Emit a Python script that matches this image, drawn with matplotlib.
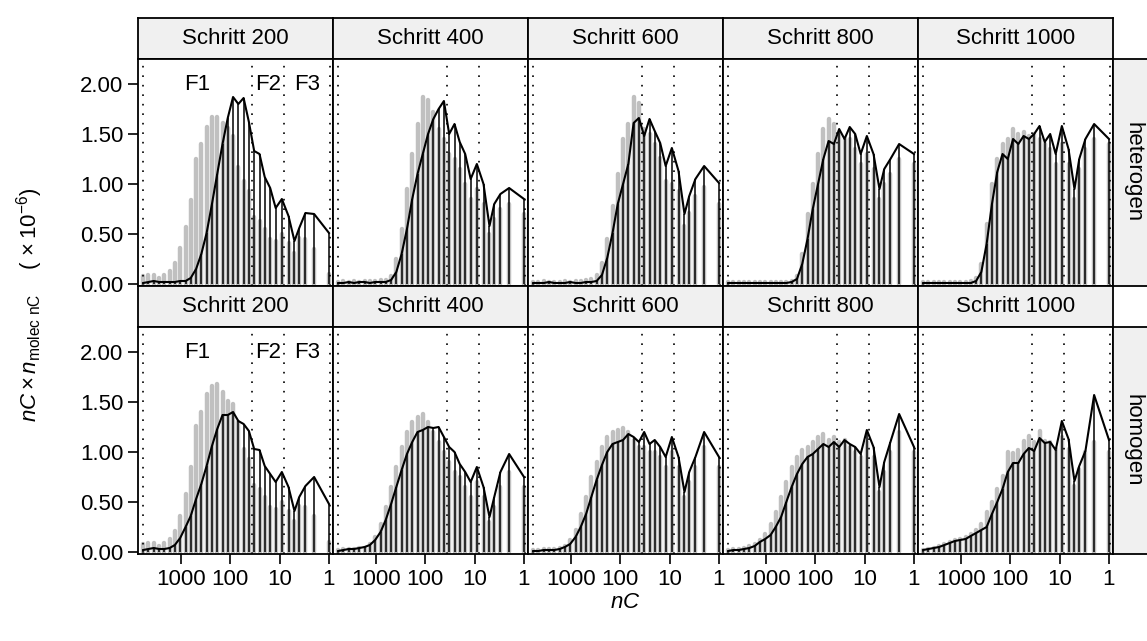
import numpy as np
import matplotlib.pyplot as plt
from matplotlib.ticker import NullLocator, FixedFormatter, FixedLocator

plt.rcParams['font.family'] = 'Liberation Sans'
plt.rcParams['mathtext.fontset'] = 'custom'
plt.rcParams['mathtext.rm'] = 'Liberation Sans'
plt.rcParams['mathtext.it'] = 'Liberation Sans:italic'

# carbon number of each class (log-spaced bins for long chains, single nC for short ones)
nc_bins = [5770, 4510, 3520, 2750, 2150, 1680, 1320, 1030, 800, 630, 490, 384,
           300, 234, 183, 143, 112, 87.5, 68.4, 53.5, 41.8, 32.7, 25.5, 20,
           15.5, 12, 9, 6.6, 5, 4, 3, 2, 1]
frac_edges = [5830, 36.3, 8.0, 0.97]
frac_labels = ['F1', 'F2', 'F3']
steps = [200, 400, 600, 800, 1000]
modes = ['heterogen', 'homogen']
x_ticks = [1000, 100, 10, 1]
y_ticks = [0.0, 0.5, 1.0, 1.5, 2.0]

# simulated distribution (black), nC * n_molec in 1e-6
sim_het_200 = [0.01, 0.02, 0.03, 0.02, 0.02, 0.02, 0.02, 0.03, 0.03, 0.06, 0.15, 0.30,
               0.51, 0.80, 1.10, 1.40, 1.66, 1.87, 1.80, 1.86, 1.62, 1.33, 1.30, 1.07,
               0.96, 0.76, 0.85, 0.68, 0.43, 0.56, 0.71, 0.70, 0.51]
sim_het_400 = [0.01, 0.01, 0.02, 0.01, 0.02, 0.02, 0.01, 0.02, 0.02, 0.02, 0.04, 0.12,
               0.30, 0.55, 0.85, 1.10, 1.30, 1.50, 1.65, 1.75, 1.83, 1.50, 1.60, 1.42,
               1.30, 1.05, 1.20, 1.00, 0.58, 0.80, 0.90, 0.96, 0.85]
sim_het_600 = [0.01, 0.01, 0.01, 0.02, 0.01, 0.01, 0.01, 0.02, 0.01, 0.01, 0.02, 0.02,
               0.03, 0.09, 0.26, 0.51, 0.80, 1.00, 1.20, 1.61, 1.66, 1.48, 1.65, 1.53,
               1.41, 1.18, 1.36, 1.13, 0.70, 0.88, 1.05, 1.18, 1.01]
sim_het_800 = [0.01, 0.01, 0.01, 0.01, 0.01, 0.01, 0.01, 0.01, 0.01, 0.01, 0.01, 0.01,
               0.02, 0.05, 0.20, 0.45, 0.75, 1.00, 1.25, 1.43, 1.40, 1.55, 1.45, 1.57,
               1.50, 1.30, 1.48, 1.30, 0.95, 1.15, 1.25, 1.40, 1.30]
sim_het_1000 = [0.01, 0.01, 0.01, 0.01, 0.01, 0.01, 0.01, 0.01, 0.01, 0.01, 0.03, 0.12,
                0.40, 0.80, 1.12, 1.30, 1.25, 1.45, 1.40, 1.48, 1.45, 1.50, 1.58, 1.42,
                1.50, 1.30, 1.58, 1.35, 0.95, 1.25, 1.45, 1.60, 1.45]
sim_hom_200 = [0.02, 0.03, 0.04, 0.03, 0.03, 0.04, 0.07, 0.14, 0.25, 0.36, 0.53, 0.68,
               0.86, 1.06, 1.23, 1.37, 1.37, 1.40, 1.31, 1.28, 1.21, 1.03, 1.02, 0.86,
               0.78, 0.70, 0.80, 0.65, 0.41, 0.55, 0.66, 0.75, 0.48]
sim_hom_400 = [0.01, 0.02, 0.03, 0.03, 0.04, 0.05, 0.07, 0.12, 0.20, 0.32, 0.48, 0.65,
               0.82, 0.98, 1.10, 1.20, 1.22, 1.25, 1.24, 1.25, 1.15, 1.05, 1.00, 0.88,
               0.80, 0.70, 0.85, 0.65, 0.35, 0.55, 0.80, 0.98, 0.75]
sim_hom_600 = [0.01, 0.01, 0.02, 0.02, 0.02, 0.03, 0.05, 0.08, 0.15, 0.25, 0.38, 0.55,
               0.72, 0.87, 1.00, 1.08, 1.10, 1.12, 1.18, 1.15, 1.10, 1.20, 1.08, 1.12,
               1.05, 0.95, 1.15, 0.95, 0.60, 0.80, 0.95, 1.20, 0.95]
sim_hom_800 = [0.01, 0.02, 0.02, 0.03, 0.04, 0.06, 0.10, 0.13, 0.17, 0.25, 0.35, 0.50,
               0.65, 0.78, 0.88, 0.95, 0.98, 1.03, 1.08, 1.05, 1.10, 1.05, 1.12, 1.08,
               1.05, 0.98, 1.22, 1.05, 0.65, 0.90, 1.10, 1.38, 1.05]
sim_hom_1000 = [0.02, 0.03, 0.04, 0.05, 0.07, 0.09, 0.11, 0.12, 0.13, 0.16, 0.19, 0.22,
                0.25, 0.38, 0.50, 0.63, 0.80, 0.89, 0.89, 0.98, 1.04, 1.01, 1.14, 1.09,
                1.10, 1.02, 1.31, 1.13, 0.71, 0.86, 1.01, 1.57, 1.12]

# reference distribution (grey)
ref_het_200 = [0.08, 0.09, 0.09, 0.06, 0.09, 0.13, 0.21, 0.36, 0.57, 0.84, 1.25, 1.40,
               1.57, 1.67, 1.67, 1.61, 1.56, 1.48, 1.17, 1.03, 0.93, 0.67, 0.63, 0.55,
               0.45, 0.43, 0.50, 0.41, 0.31, 0.46, 0.45, 0.35, 0.10]
ref_het_400 = [0.02, 0.03, 0.02, 0.03, 0.02, 0.03, 0.03, 0.03, 0.04, 0.04, 0.08, 0.25,
               0.55, 0.95, 1.30, 1.60, 1.87, 1.84, 1.72, 1.55, 1.45, 1.30, 1.25, 1.15,
               1.00, 0.85, 0.95, 0.80, 0.50, 0.65, 0.75, 0.80, 0.70]
ref_het_600 = [0.02, 0.02, 0.03, 0.02, 0.02, 0.02, 0.03, 0.02, 0.03, 0.03, 0.04, 0.05,
               0.09, 0.21, 0.45, 0.78, 1.10, 1.45, 1.60, 1.87, 1.81, 1.55, 1.50, 1.40,
               1.26, 1.03, 1.00, 0.93, 0.58, 0.71, 0.88, 0.97, 0.80]
ref_het_800 = [0.02, 0.02, 0.02, 0.02, 0.02, 0.02, 0.02, 0.02, 0.02, 0.02, 0.02, 0.02,
               0.03, 0.08, 0.30, 0.70, 1.00, 1.30, 1.55, 1.65, 1.60, 1.50, 1.45, 1.45,
               1.35, 1.20, 1.30, 1.15, 0.85, 1.00, 1.10, 1.25, 1.20]
ref_het_1000 = [0.02, 0.02, 0.02, 0.02, 0.02, 0.02, 0.02, 0.02, 0.02, 0.03, 0.06, 0.20,
                0.60, 1.00, 1.25, 1.40, 1.45, 1.55, 1.50, 1.52, 1.48, 1.50, 1.45, 1.40,
                1.35, 1.20, 1.40, 1.20, 0.85, 1.15, 1.35, 1.45, 1.40]
ref_hom_200 = [0.08, 0.09, 0.09, 0.06, 0.09, 0.13, 0.21, 0.36, 0.58, 0.85, 1.26, 1.40,
               1.58, 1.66, 1.68, 1.60, 1.51, 1.48, 1.30, 1.03, 0.93, 0.67, 0.63, 0.55,
               0.45, 0.43, 0.50, 0.41, 0.31, 0.46, 0.45, 0.36, 0.10]
ref_hom_400 = [0.02, 0.03, 0.03, 0.03, 0.04, 0.04, 0.08, 0.15, 0.28, 0.45, 0.65, 0.85,
               1.05, 1.20, 1.30, 1.35, 1.38, 1.30, 1.20, 1.10, 1.00, 0.90, 0.80, 0.75,
               0.65, 0.55, 0.70, 0.55, 0.30, 0.45, 0.65, 0.80, 0.65]
ref_hom_600 = [0.02, 0.02, 0.03, 0.03, 0.03, 0.04, 0.06, 0.12, 0.22, 0.38, 0.55, 0.75,
               0.90, 1.05, 1.15, 1.20, 1.22, 1.24, 1.20, 1.12, 1.05, 1.05, 1.00, 1.00,
               0.95, 0.85, 1.00, 0.85, 0.55, 0.70, 0.85, 1.05, 0.85]
ref_hom_800 = [0.02, 0.03, 0.03, 0.04, 0.06, 0.08, 0.12, 0.18, 0.28, 0.40, 0.55, 0.70,
               0.85, 0.95, 1.02, 1.05, 1.10, 1.15, 1.18, 1.12, 1.15, 1.10, 1.12, 1.05,
               1.00, 0.95, 1.10, 0.95, 0.60, 0.80, 1.00, 1.20, 1.00]
ref_hom_1000 = [0.02, 0.03, 0.04, 0.06, 0.08, 0.10, 0.12, 0.13, 0.15, 0.18, 0.22, 0.28,
                0.40, 0.50, 0.63, 0.76, 1.00, 0.99, 1.02, 1.11, 1.16, 1.10, 1.21, 1.11,
                1.10, 1.03, 1.15, 1.03, 0.66, 0.83, 1.00, 1.10, 1.00]

sim = {'heterogen': [sim_het_200, sim_het_400, sim_het_600, sim_het_800, sim_het_1000],
       'homogen': [sim_hom_200, sim_hom_400, sim_hom_600, sim_hom_800, sim_hom_1000]}
ref = {'heterogen': [ref_het_200, ref_het_400, ref_het_600, ref_het_800, ref_het_1000],
       'homogen': [ref_hom_200, ref_hom_400, ref_hom_600, ref_hom_800, ref_hom_1000]}

W, H = 1147, 641
LEFT, TOP = 138, 18
PW, PH, SH = 195, 227, 41
STRIP_COL = '#f0f0f0'
GREY = '#c0c0c0'
FS = 16

fig = plt.figure(figsize=(W / 100, H / 100), dpi=100)


def px_axes(x0, y0, w, h):
    # axes placed in pixel units measured from the top-left corner
    return fig.add_axes([x0 / W, 1 - (y0 + h) / H, w / W, h / H])


def bare(ax, face):
    ax.set_facecolor(face)
    ax.set_xticks([])
    ax.set_yticks([])
    for s in ax.spines.values():
        s.set_linewidth(1.3)


nc = np.array(nc_bins, dtype=float)
log_edges = np.log10(frac_edges)

for r, mode in enumerate(modes):
    y_strip = TOP + r * (SH + PH)
    y_panel = y_strip + SH
    for c, step in enumerate(steps):
        x0 = LEFT + c * PW
        sax = px_axes(x0, y_strip, PW, SH)
        bare(sax, STRIP_COL)
        sax.text(0.5, 0.5, f'Schritt {step}', transform=sax.transAxes,
                 ha='center', va='center', fontsize=FS)

        ax = px_axes(x0, y_panel, PW, PH)
        g = np.array(ref[mode][c])
        b = np.array(sim[mode][c])
        ax.vlines(nc, 0, g, colors=GREY, lw=3.2, capstyle='round', zorder=1)
        for e in frac_edges:
            ax.axvline(e, color='k', lw=1.2, ls=(0, (1, 4.7)), zorder=2)
        ax.vlines(nc, 0, b, colors='k', lw=1.1, zorder=3)
        ax.plot(nc, b, color='k', lw=1.5, zorder=4)

        ax.set_xscale('log')
        ax.set_xlim(10 ** 3.866, 10 ** -0.081)
        ax.set_ylim(-0.02, 2.25)
        ax.xaxis.set_major_locator(FixedLocator(x_ticks))
        ax.xaxis.set_major_formatter(FixedFormatter([str(t) for t in x_ticks]))
        ax.xaxis.set_minor_locator(NullLocator())
        ax.set_yticks(y_ticks)
        ax.set_yticklabels([f'{t:.2f}' for t in y_ticks])
        ax.tick_params(direction='out', length=7.5, width=1.2, labelsize=FS, pad=3)
        ax.tick_params(axis='x', bottom=(r == 1), labelbottom=(r == 1))
        ax.tick_params(axis='y', left=(c == 0), labelleft=(c == 0))
        for s in ax.spines.values():
            s.set_linewidth(1.3)

        if c == 0:
            for i, lab in enumerate(frac_labels):
                mid = 10 ** ((log_edges[i] + log_edges[i + 1]) / 2)
                ax.text(mid, 2.0, lab, ha='center', va='center', fontsize=FS)

    rax = px_axes(LEFT + 5 * PW, y_panel, 40, PH)
    bare(rax, STRIP_COL)
    rax.text(0.5, 0.5, mode, transform=rax.transAxes, rotation=-90,
             ha='center', va='center', fontsize=FS)

fig.text(30 / W, 1 - 305 / H,
         r'$nC\times n_{\mathrm{molec\ nC}}$    $(\,\times 10^{-6})$',
         rotation=90, ha='center', va='center', fontsize=FS)
fig.text((LEFT + 2.5 * PW) / W, 1 - 603 / H, r'$nC$',
         ha='center', va='center', fontsize=FS)

fig.savefig('out.png', dpi=100)
